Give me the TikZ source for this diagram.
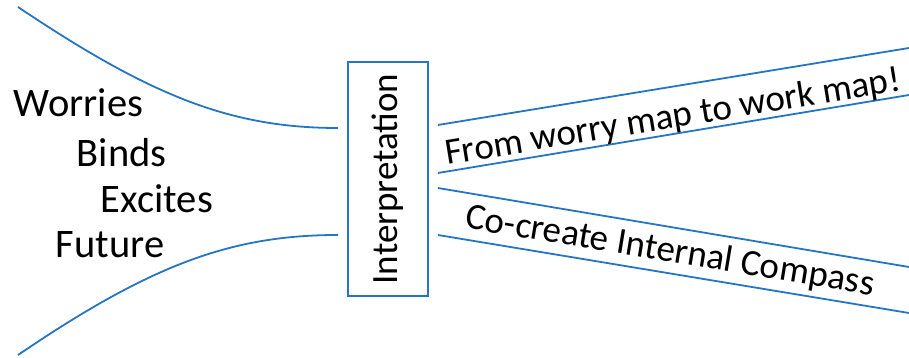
\documentclass[tikz,border=0pt]{standalone}
\usepackage{fontspec}
\setmainfont{Carlito}
\usetikzlibrary{calc, positioning}
\definecolor{lineblue}{RGB}{38,116,196}

\begin{document}
\begin{tikzpicture}[x=1pt, y=1pt, line width=1.8pt, font=\fontsize{37}{44}\selectfont]
        \def\upAng{9.3}
        \def\downAng{-9.4}
        \tikzset{
            box/.style={draw=lineblue, minimum width=80pt, minimum height=234pt, inner sep=0pt},
            word/.style={anchor=base west, inner sep=0pt, font=\fontsize{40.5}{46}\selectfont},
            strip/.style={draw=lineblue},
        }
        \useasboundingbox (0,0) rectangle (909,358);

        % the box in the middle
        \node[box] (interp) at (388,179) {\rotatebox{90}{Interpretation}};

        % words on the left
        \node[word] (worries) at (13,241) {Worries};
        \node[word] (binds) at (76,191) {Binds};
        \node[word] (excites) at (100,145) {Excites};
        \node[word] (future) at (55,100) {Future};

        % funnel into the box
        \coordinate (topStart) at (18,351);
        \coordinate (botStart) at (18,3);
        \coordinate (topEnd) at ($(interp.west)+(-9,51)$);
        \coordinate (botEnd) at ($(interp.west)+(-9,-56)$);
        \draw[strip] (topStart) .. controls (152,261) and (232,230) .. (topEnd);
        \draw[strip] (botStart) .. controls (152,94) and (232,123) .. (botEnd);

        % two strips going out to the right
        \coordinate (a1) at ($(interp.east)+(9,54)$);
        \coordinate (a2) at ($(interp.east)+(9,6)$);
        \coordinate (b1) at ($(interp.east)+(9,-9)$);
        \coordinate (b2) at ($(interp.east)+(9,-56)$);
        \coordinate (a1end) at (909,310);
        \coordinate (a2end) at (909,263);
        \coordinate (b1end) at (909,91);
        \coordinate (b2end) at (909,45);
        \draw[strip] (a1) -- (a1end);
        \draw[strip] (a2) -- (a2end);
        \draw[strip] (b1) -- (b1end);
        \draw[strip] (b2) -- (b2end);

        \node[rotate=\upAng, inner sep=0pt] (workmap) at (673,240) {From worry map to work map!};
        \node[rotate=\downAng, inner sep=0pt] (compass) at (670,106) {Co-create Internal Compass};

    \end{tikzpicture}
\end{document}
